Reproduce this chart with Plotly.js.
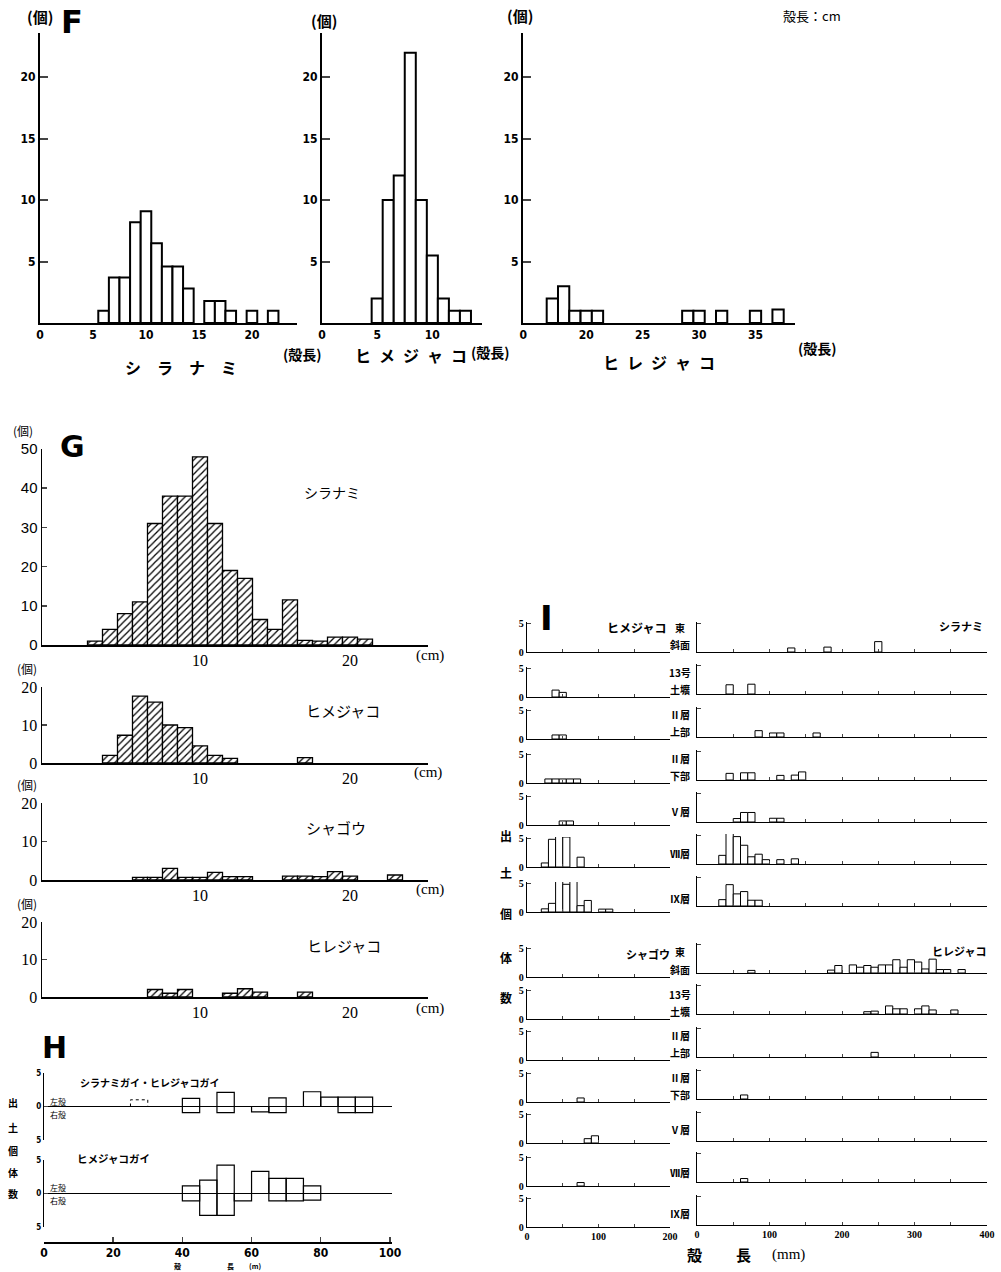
<!DOCTYPE html>
<html><head><meta charset="utf-8">
<script src="https://cdn.plot.ly/plotly-3.0.1.min.js"></script>
<style>html,body{margin:0;padding:0;background:#fff}</style>
</head><body><div id="chart" style="width:1001px;height:1272px"></div>
<script>
// ===== DATA =====
// F: shell length (cm) vs count
const F_shiranami_len = [6,7,8,9,10,11,12,13,14,16,17,18,20,22];
const F_shiranami_cnt = [1,3.7,3.7,8.2,9.1,6.5,4.6,4.6,2.8,1.8,1.8,1,1,1];
const F_himejako_len = [5,6,7,8,9,10,11,12,13];
const F_himejako_cnt = [2,10,12,22,10,5.5,2,1,1];
const F_hirejako_len = [17,18,19,20,21,29,30,32,35,37];
const F_hirejako_cnt = [2,3,1,1,1,1,1,1,1,1.1];
const F_species = ['シ　ラ　ナ　ミ','ヒ\u2002メ\u2002ジ\u2002ャ\u2002コ','ヒ\u2002レ\u2002ジ\u2002ャ\u2002コ'];

// G: shell length (cm) vs count
const G_shiranami_len = [3,4,5,6,7,8,9,10,11,12,13,14,15,16,17,18,19,20,21];
const G_shiranami_cnt = [1,4,8,11,31,38,38,48,31,19,17,6.5,4,11.5,1.2,1,2,2,1.5];
const G_himejako_len = [4,5,6,7,8,9,10,11,12,17];
const G_himejako_cnt = [2,7.3,17.6,16,10,9.3,4.5,2,1.2,1.4];
const G_shakou_len = [6,7,8,9,10,11,12,13,16,17,18,19,20,23];
const G_shakou_cnt = [0.7,0.7,3,0.7,0.7,2,0.9,0.9,1,1,0.9,2.2,1,1.3];
const G_hirejako_len = [7,8,9,12,13,14,17];
const G_hirejako_cnt = [2,1,2,1,2.2,1.3,1.3];
const G_species = ['シラナミ','ヒメジャコ','シャゴウ','ヒレジャコ'];

// H: bins (mm, 5mm wide), left valve (up) / right valve (down)
const H1_bins  = [40,45,50,55,60,65,70,75,80,85,90];
const H1_left  = [1.2,0,2.1,0,0,1.3,0,2.2,1.4,1.4,1.4];
const H1_right = [0.9,0,0.9,0,0.8,0.9,0,0,0,0.9,0.9];
const H1_dot_bins = [25];
const H1_dot_vals = [1];
const H2_bins  = [40,45,50,55,60,65,70,75];
const H2_left  = [1.15,2,4.25,0,3.3,2.25,2.25,1.15];
const H2_right = [1.1,3.25,3.25,1.1,0,1.1,1.1,1.0];
const H_titles = ['シラナミガイ・ヒレジャコガイ','ヒメジャコガイ'];

// I: layers; bin starts (mm, 10mm wide) and counts per layer
const I_layers = [['東','斜面'],['13号','土壙'],['Ⅱ層','上部'],['Ⅱ層','下部'],['Ⅴ層'],['Ⅶ層'],['Ⅸ層']];
const I_himejako_start = [[],[35,45],[35,45],[25,35,45,55,65],[45,55],[20,30,40,50,70],[20,30,40,50,60,70,80,100,110]];
const I_himejako_cnt   = [[],[1.2,0.8],[0.7,0.7],[0.7,0.7,0.7,0.7,0.7],[0.7,0.7],[0.7,4.8,5.8,5.2,1.7],[0.55,1.5,6.1,4.8,5.3,1.1,2.0,0.5,0.5]];
const I_shiranami_start = [[125,175,245],[40,70],[80,100,110,160],[40,60,70,110,130,140],[50,60,70,100,110],[30,40,50,60,70,80,90,110,130],[30,40,50,60,70,80]];
const I_shiranami_cnt   = [[0.7,0.85,1.8],[1.6,1.7],[1.1,0.7,0.7,0.7],[1.15,1.25,1.25,0.8,0.85,1.4],[0.6,1.65,1.65,0.65,0.65],[1.5,5.8,4.75,3.25,1.25,1.7,0.75,0.75,0.9],[1.1,3.7,2.1,2.5,1.0,1.0]];
const I_shakou_start = [[],[],[],[70],[80,90],[70],[]];
const I_shakou_cnt   = [[],[],[],[0.7],[0.75,1.25],[0.6],[]];
const I_hirejako_start = [[70,180,190,210,220,230,240,250,260,270,280,290,300,310,320,330,340,360],[230,240,260,270,280,300,310,320,350],[240],[60],[],[60],[]];
const I_hirejako_cnt   = [[0.45,0.5,1.3,1.4,1.0,1.3,1.0,1.4,1.4,2.3,1.0,2.3,1.9,0.7,2.4,0.6,0.6,0.6],[0.4,0.5,1.4,0.9,0.9,0.9,1.4,0.7,0.7],[0.8],[0.7],[],[0.6],[]];
const I_species = ['ヒメジャコ','シラナミ','シャゴウ','ヒレジャコ'];

// ===== LAYOUT HELPERS =====
const JP = "'Noto Sans CJK JP', sans-serif";
const NUM = "'Liberation Sans Narrow', 'DejaVu Sans Condensed', 'Liberation Sans', sans-serif";
const SERIF = "'Liberation Serif', serif";
const W = 1001, H = 1272;
const fx = p => p / W, fy = p => 1 - p / H;
const data = [], annotations = [];
const layout = {width:W, height:H, margin:{l:0,r:0,t:0,b:0,pad:0}, showlegend:false,
  barmode:'overlay', bargap:0, paper_bgcolor:'#fff', plot_bgcolor:'rgba(0,0,0,0)',
  font:{family:JP, color:'#000'}, annotations};
let n = 0;
function sub(xpx, ypx, xo, yo){
  n++; const s = n === 1 ? '' : String(n);
  layout['xaxis'+s] = Object.assign({domain:[fx(xpx[0]), fx(xpx[1])], anchor:'y'+s, showgrid:false, zeroline:false,
    showline:true, linecolor:'#000', linewidth:1.5, ticks:'', fixedrange:true}, xo);
  layout['yaxis'+s] = Object.assign({domain:[fy(ypx[1]), fy(ypx[0])], anchor:'x'+s, showgrid:false, zeroline:false,
    showline:true, linecolor:'#000', linewidth:1.5, ticks:'', fixedrange:true}, yo);
  const ax = {xaxis:'x'+s, yaxis:'y'+s};
  data.push({type:'scatter', mode:'markers', x:[], y:[], xaxis:ax.xaxis, yaxis:ax.yaxis, hoverinfo:'skip'});
  return ax;
}
function bar(ax, x, y, w, marker){
  data.push({type:'bar', x, y, width:w, xaxis:ax.xaxis, yaxis:ax.yaxis, marker, hoverinfo:'skip'});
}
function T(x, y, text, size, o){
  o = o || {};
  annotations.push({xref:'paper', yref:'paper', x:fx(x), y:fy(y), text, showarrow:false,
    xanchor:o.xa || 'center', yanchor:'middle',
    font:{family:o.family || JP, size, color:'#000', weight:o.weight || 'normal'}});
}

// ===== F =====
const fMarker = {color:'#fff', line:{color:'#000', width:2}};
const fTick = {family:NUM, size:12, weight:'bold'};
const fY = {range:[0,23.6], tickvals:[5,10,15,20], ticks:'inside', ticklen:8, tickwidth:2, linewidth:2, tickfont:fTick};
const F1 = sub([40,297],[33,323], {range:[0,24.25], tickvals:[0,5,10,15,20], linewidth:2, tickfont:fTick}, fY);
bar(F1, F_shiranami_len, F_shiranami_cnt, 1, fMarker);
const F2 = sub([322,482],[33,323], {range:[0,14.5], tickvals:[0,5,10], linewidth:2, tickfont:fTick}, fY);
bar(F2, F_himejako_len, F_himejako_cnt, 1, fMarker);
const F3 = sub([523,795],[33,323], {range:[14.4,38.5], tickvals:[14.42,20,25,30,35], ticktext:['0','20','25','30','35'], linewidth:2, tickfont:fTick}, fY);
bar(F3, F_hirejako_len, F_hirejako_cnt, 1, fMarker);
T(40,17,'(個)',15,{weight:'bold'});
T(72,22,'F',32,{family:"'DejaVu Sans', sans-serif", weight:'bold'});
T(324,21,'(個)',15,{weight:'bold'});
T(520,15,'(個)',15,{weight:'bold'});
T(812,15,'殻長：cm',13);
T(181,367,F_species[0],16,{weight:'bold'});
T(411,355,F_species[1],16,{weight:'bold'});
T(659,362,F_species[2],16,{weight:'bold'});
T(302,354,'(殻長)',14,{weight:'bold'});
T(490,352,'(殻長)',14,{weight:'bold'});
T(817,348,'(殻長)',14,{weight:'bold'});

// ===== G =====
const gMarker = {color:'#fff', pattern:{shape:'/', fgcolor:'#000', bgcolor:'#fff', size:5, solidity:0.25}, line:{color:'#000', width:1.3}};
const gTick = {family:SERIF, size:16};
const gX = {range:[-0.533,25.2], tickvals:[10,20], linewidth:1.5, tickfont:gTick};
const gY = {ticks:'inside', ticklen:5, tickwidth:1.5, linewidth:1.5, tickfont:gTick};
const G1 = sub([42,428],[449,645], gX, Object.assign({range:[0,50], tickvals:[0,10,20,30,40,50]}, gY, {tickfont:{family:"'Liberation Sans', sans-serif", size:15}}));
bar(G1, G_shiranami_len, G_shiranami_cnt, 1, gMarker);
const G2 = sub([42,428],[687,763], gX, Object.assign({range:[0,20], tickvals:[0,10,20]}, gY));
bar(G2, G_himejako_len, G_himejako_cnt, 1, gMarker);
const G3 = sub([42,428],[803,880], gX, Object.assign({range:[0,20], tickvals:[0,10,20]}, gY));
bar(G3, G_shakou_len, G_shakou_cnt, 1, gMarker);
const G4 = sub([42,428],[922,997], gX, Object.assign({range:[0,20], tickvals:[0,10,20]}, gY));
bar(G4, G_hirejako_len, G_hirejako_cnt, 1, gMarker);
T(23,431,'(個)',12); T(27,668,'(個)',12); T(27,784,'(個)',12); T(27,904,'(個)',12);
T(72,447,'G',30,{family:"'DejaVu Sans', sans-serif", weight:'bold'});
T(332,492,G_species[0],14); T(343,710,G_species[1],15); T(336,827,G_species[2],15); T(344,945,G_species[3],15);
T(430,655,'(cm)',15,{family:SERIF}); T(428,773,'(cm)',15,{family:SERIF});
T(430,889,'(cm)',15,{family:SERIF}); T(430,1008,'(cm)',15,{family:SERIF});

// ===== H =====
const hMarker = {color:'rgba(0,0,0,0)', line:{color:'#000', width:1.2}};
const hY = {range:[-5,5], tickvals:[-5,0,5], ticktext:['5','0','5'], ticks:'inside', ticklen:4, tickwidth:1.2,
  zeroline:true, zerolinecolor:'#000', zerolinewidth:1.5, linewidth:1.2, tickfont:{family:NUM, size:8, weight:'bold'}};
function hBars(ax, bins, left, right){
  const up = bins.map((b,i)=>[b+2.5,left[i]]).filter(d=>d[1]>0);
  const dn = bins.map((b,i)=>[b+2.5,-right[i]]).filter(d=>d[1]<0);
  bar(ax, up.map(d=>d[0]), up.map(d=>d[1]), 5, hMarker);
  bar(ax, dn.map(d=>d[0]), dn.map(d=>d[1]), 5, hMarker);
}
const H1ax = sub([44,392],[1073,1140], {range:[0,100.6], visible:false}, hY);
hBars(H1ax, H1_bins, H1_left, H1_right);
H1_dot_bins.forEach((b,i)=>{
  data.push({type:'scatter', mode:'lines', x:[b,b,b+5,b+5], y:[0,H1_dot_vals[i],H1_dot_vals[i],0],
    line:{color:'#000', width:1, dash:'dot'}, xaxis:H1ax.xaxis, yaxis:H1ax.yaxis, hoverinfo:'skip'});
});
const H2ax = sub([44,392],[1160,1227], {range:[0,100.6], visible:false}, hY);
hBars(H2ax, H2_bins, H2_left, H2_right);
sub([44,392],[1232,1242], {range:[0,100.6], tickvals:[0,20,40,60,80,100], ticks:'inside', ticklen:5, tickwidth:1.5,
  linewidth:1.5, ticklabelstandoff:-1, tickfont:{family:NUM, size:12, weight:'bold'}}, {visible:false, range:[0,1]});
T(54,1047,'H',30,{family:"'DejaVu Sans', sans-serif", weight:'bold'});
T(150,1082,H_titles[0],10,{weight:'bold'});
T(113,1158,H_titles[1],10.5,{weight:'bold'});
T(58,1101,'左殻',8); T(58,1114,'右殻',8);
T(58,1187,'左殻',8); T(58,1200,'右殻',8);
['出','土','個','体','数'].forEach((c,i)=>T(13,[1102,1127,1150,1172,1193][i],c,10,{weight:'bold'}));
T(177,1266,'殻',7,{weight:'bold'}); T(230,1266,'長',7,{weight:'bold'}); T(255,1266,'(m)',7,{weight:'bold'});

// ===== I =====
const iMarker = {color:'#fff', line:{color:'#000', width:1}};
const iTick = {family:SERIF, size:10, weight:'bold'};
function iRow(xpx, base, xmax, starts, cnts, isLeft, showX){
  const tv = []; for (let v=0; v<=xmax; v+=50) tv.push(v);
  const xo = {range:[0,xmax], tickvals:tv, ticktext:tv.map(v=>v%100===0?String(v):''), ticks:'inside', ticklen:3,
    tickwidth:1, linewidth:1.2, showticklabels:showX, tickfont:iTick};
  const yo = {range:[0,5.2], tickvals:isLeft?[0,5]:[5], ticktext:isLeft?['0','5']:[''], ticks:'inside', ticklen:4,
    tickwidth:1, linewidth:1.2, showticklabels:isLeft, tickfont:iTick};
  const ax = sub(xpx, [base-30, base], xo, yo);
  bar(ax, starts.map(s=>s+5), cnts, 10, iMarker);
}
const I_top_left = [652,697,739,783,825,867,912];
const I_top_right = [652,694,737,780,822,864,906];
const I_bot_left = [977,1019,1060,1102,1143,1186,1227];
const I_bot_right = [973,1014,1057,1099,1141,1182,1225];
for (let r=0; r<7; r++){
  iRow([527,670], I_top_left[r], 200, I_himejako_start[r], I_himejako_cnt[r], true, false);
  iRow([697,987], I_top_right[r], 400, I_shiranami_start[r], I_shiranami_cnt[r], false, false);
  iRow([527,670], I_bot_left[r], 200, I_shakou_start[r], I_shakou_cnt[r], true, r===6);
  iRow([697,987], I_bot_right[r], 400, I_hirejako_start[r], I_hirejako_cnt[r], false, r===6);
  [I_top_left[r], I_bot_left[r]].forEach(b=>{
    const L = I_layers[r];
    if (L.length===2){ T(680,b-25,L[0],10,{weight:'bold'}); T(680,b-8,L[1],10,{weight:'bold'}); }
    else T(680,b-14,L[0],10,{weight:'bold'});
  });
}
T(546,618,'I',34,{family:"'DejaVu Sans', sans-serif", weight:'bold'});
T(668,627,I_species[0],12,{xa:'right', weight:'bold'});
T(985,626,I_species[1],11,{xa:'right', weight:'bold'});
T(672,954,I_species[2],11,{xa:'right', weight:'bold'});
T(988,951,I_species[3],11,{xa:'right', weight:'bold'});
['出','土','個','体','数'].forEach((c,i)=>T(506,[835,872,913,957,997][i],c,12,{weight:'bold'}));
T(694,1254,'殻',15,{weight:'bold'}); T(743,1254,'長',15,{weight:'bold'}); T(788,1254,'(mm)',15,{family:SERIF});

Plotly.newPlot('chart', data, layout, {staticPlot:true, responsive:false});
</script></body></html>
